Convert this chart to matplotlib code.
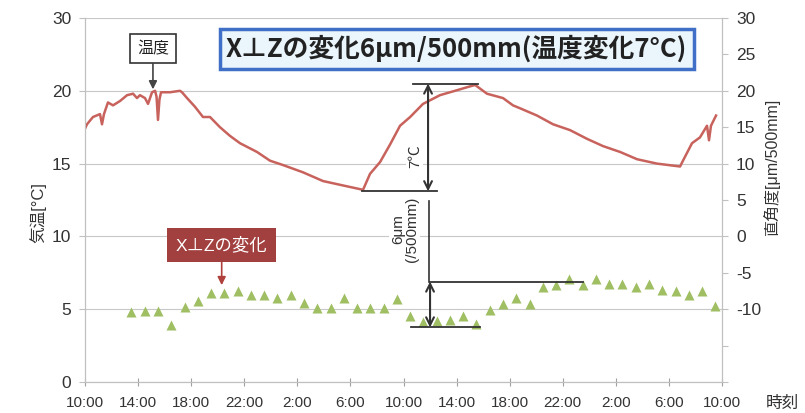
import matplotlib
matplotlib.use('Agg')
import matplotlib.pyplot as plt

plt.rcParams['font.family'] = ['Liberation Sans', 'Noto Sans CJK JP']

# temperature trace, hours counted from 10:00 on day 1
temp_hours = [0.0, 0.15, 0.6, 1.13, 1.28, 1.43, 1.73, 2.11, 2.64, 3.17, 3.62, 3.92,
              4.14, 4.52, 4.75, 5.05, 5.28, 5.39, 5.5, 5.61, 5.73, 6.41, 7.16, 7.31,
              7.69, 8.29, 8.89, 9.42, 10.17, 10.93, 11.68, 12.96, 13.94, 14.92, 16.43,
              17.94, 19.44, 20.95, 21.48, 22.23, 22.98, 23.74, 24.5, 25.47, 26.75,
              27.88, 29.0, 29.4, 30.29, 31.5, 32.25, 32.78, 34.06, 35.27, 36.55, 37.83,
              39.04, 40.32, 41.6, 43.1, 44.84, 45.06, 45.74, 46.34, 46.87, 47.02,
              47.17, 47.55]
temp_values = [17.4, 17.7, 18.2, 18.4, 17.7, 18.4, 19.2, 19.0, 19.3, 19.7, 19.8, 19.5,
               19.7, 19.5, 19.1, 19.9, 20.0, 19.6, 18.0, 19.4, 19.9, 19.9, 20.0, 19.9,
               19.5, 18.9, 18.2, 18.2, 17.5, 16.9, 16.4, 15.8, 15.2, 14.9, 14.4,
               13.8, 13.5, 13.2, 14.3, 15.1, 16.3, 17.6, 18.2, 19.1, 19.7,
               20.0, 20.3, 20.4, 19.8, 19.5, 19.0, 18.8, 18.3, 17.7, 17.3, 16.7,
               16.2, 15.8, 15.3, 15.0, 14.8, 15.2, 16.4, 16.8, 17.6, 16.6,
               17.6, 18.3]

# X-perp-Z squareness, hourly readings [um/500mm]
xz_hours = [3.5, 4.5, 5.5, 6.5, 7.5, 8.5, 9.5, 10.5, 11.5, 12.5, 13.5, 14.5, 15.5,
            16.5, 17.5, 18.5, 19.5, 20.5, 21.5, 22.5, 23.5, 24.5, 25.5, 26.5, 27.5,
            28.5, 29.5, 30.5, 31.5, 32.5, 33.5, 34.5, 35.5, 36.5, 37.5, 38.5, 39.5,
            40.5, 41.5, 42.5, 43.5, 44.5, 45.5, 46.5, 47.5]
xz_values = [-10.4, -10.2, -10.2, -12.2, -9.75, -8.9, -7.8, -7.8, -7.55, -8.1, -8.1,
             -8.5, -8.0, -9.2, -9.9, -9.9, -8.5, -9.9, -9.9, -9.9, -8.65, -11.0,
             -11.7, -11.6, -11.5, -11.0, -12.1, -10.1, -9.3, -8.5, -9.3, -6.9, -6.7,
             -5.9, -6.7, -5.8, -6.5, -6.5, -7.0, -6.5, -7.4, -7.55, -8.0, -7.55, -9.5]

tick_hours = [0, 4, 8, 12, 16, 20, 24, 28, 32, 36, 40, 44, 48]
tick_labels = ['10:00', '14:00', '18:00', '22:00', '2:00', '6:00', '10:00',
               '14:00', '18:00', '22:00', '2:00', '6:00', '10:00']
left_ticks = [0, 5, 10, 15, 20, 25]
left_labels = ['0', '5', '10', '15', '20', '30']
right_ticks = [-20, -15, -10, -5, 0, 5, 10, 15, 20, 25, 30]
right_labels = ['', '', '-10', '-5', '0', '5', '10', '15', '20', '25', '30']

# annotation levels
temp_hi, temp_lo = 20.5, 13.1
xz_hi, xz_lo = -6.2, -12.5

title = 'X⊥Zの変化6μm/500mm(温度変化7°C)'

fig = plt.figure(figsize=(8.05, 4.13), dpi=100)
ax = fig.add_axes([85 / 805, 31 / 413, 637 / 805, 364 / 413])
ax2 = ax.twinx()

ax.plot(temp_hours, temp_values, color='#c8625c', lw=1.8, zorder=3)
ax2.plot(xz_hours, xz_values, '^', color='#9fbf62', ms=7, mec='none')

ax.set_xlim(0, 48)
ax.set_ylim(0, 25)
ax2.set_ylim(-20, 30)
ax.set_xticks(tick_hours)
ax.set_xticklabels(tick_labels, fontsize=11, color='#333333')
ax.set_yticks(left_ticks)
ax.set_yticklabels(left_labels, fontsize=12.5, color='#333333')
ax2.set_yticks(right_ticks)
ax2.set_yticklabels(right_labels, fontsize=12.5, color='#333333')

ax.grid(axis='y', color='#c8c8c8', lw=0.8)
ax.set_axisbelow(True)
for a in (ax, ax2):
    a.spines['top'].set_visible(False)
    for s in ('left', 'right', 'bottom'):
        a.spines[s].set_color('#c0c0c0')
ax.tick_params(axis='x', direction='inout', length=6, color='#a0a0a0', pad=7)
ax.tick_params(axis='y', direction='out', length=4, color='#c0c0c0', pad=6)
ax2.tick_params(axis='y', direction='out', length=4, color='#c0c0c0', pad=6)

fig.text(38 / 805, 1 - 213 / 413, '気温[°C]', rotation=90, ha='center', va='center',
         fontsize=12, color='#333333')
fig.text(772 / 805, 1 - 167 / 413, '直角度[μm/500mm]', rotation=90, ha='center',
         va='center', fontsize=11.5, color='#333333')
fig.text(782 / 805, 1 - 403 / 413, '時刻', ha='center', va='center', fontsize=12,
         color='#333333')

# title box
ax.text(28.0, 22.85, title, ha='center', va='center', fontsize=18.5, fontweight='bold',
        family=['Noto Sans CJK JP'], color='#222222', zorder=6,
        bbox=dict(boxstyle='square,pad=0.25', fc='#eaf5fc', ec='#3f6fc6', lw=2.5))

# label boxes
ax.annotate('温度', xy=(5.12, 20.1), xytext=(5.12, 22.9), ha='center', va='center',
            fontsize=11.5, color='#222222',
            bbox=dict(boxstyle='square,pad=0.45', fc='white', ec='#333333', lw=1.2),
            arrowprops=dict(arrowstyle='-|>', color='#444444', lw=1.2,
                            mutation_scale=12, shrinkA=0, shrinkB=0))
ax2.annotate('X⊥Zの変化', xy=(10.3, -6.7), xytext=(10.3, -1.2), ha='center',
             va='center', fontsize=12.5, color='white',
             bbox=dict(boxstyle='square,pad=0.5', fc='#a23f3f', ec='none'),
             arrowprops=dict(arrowstyle='-|>', color='#b0403c', lw=1.2,
                             mutation_scale=12, shrinkA=0, shrinkB=0))

# 7 deg C span
ax.plot([24.7, 29.6], [temp_hi, temp_hi], color='#333333', lw=1.3, zorder=5)
ax.plot([20.9, 26.5], [temp_lo, temp_lo], color='#333333', lw=1.3, zorder=5)
ax.annotate('', xy=(25.85, temp_lo), xytext=(25.85, temp_hi),
            arrowprops=dict(arrowstyle='<->', color='#333333', lw=1.5,
                            shrinkA=0, shrinkB=0, mutation_scale=14), zorder=5)
ax.text(24.85, 15.5, '7℃', rotation=90, ha='center', va='center', fontsize=11,
        color='#333333', bbox=dict(fc='white', ec='none', pad=1), zorder=5)

# 6 um span
ax2.plot([26.0, 37.5], [xz_hi, xz_hi], color='#333333', lw=1.3, zorder=5)
ax2.plot([24.6, 29.8], [xz_lo, xz_lo], color='#333333', lw=1.3, zorder=5)
ax2.plot([25.95, 25.95], [4.8, xz_hi], color='#333333', lw=1.2, zorder=5)
ax2.annotate('', xy=(26.0, xz_lo), xytext=(26.0, xz_hi),
             arrowprops=dict(arrowstyle='<->', color='#333333', lw=1.5,
                             shrinkA=0, shrinkB=0, mutation_scale=14), zorder=5)
ax2.text(24.1, 1.0, '6μm\n(/500mm)', rotation=90, ha='center', va='center',
         fontsize=11, color='#333333', linespacing=1.0,
         bbox=dict(fc='white', ec='none', pad=1), zorder=5)

fig.savefig('out.png', dpi=100)
